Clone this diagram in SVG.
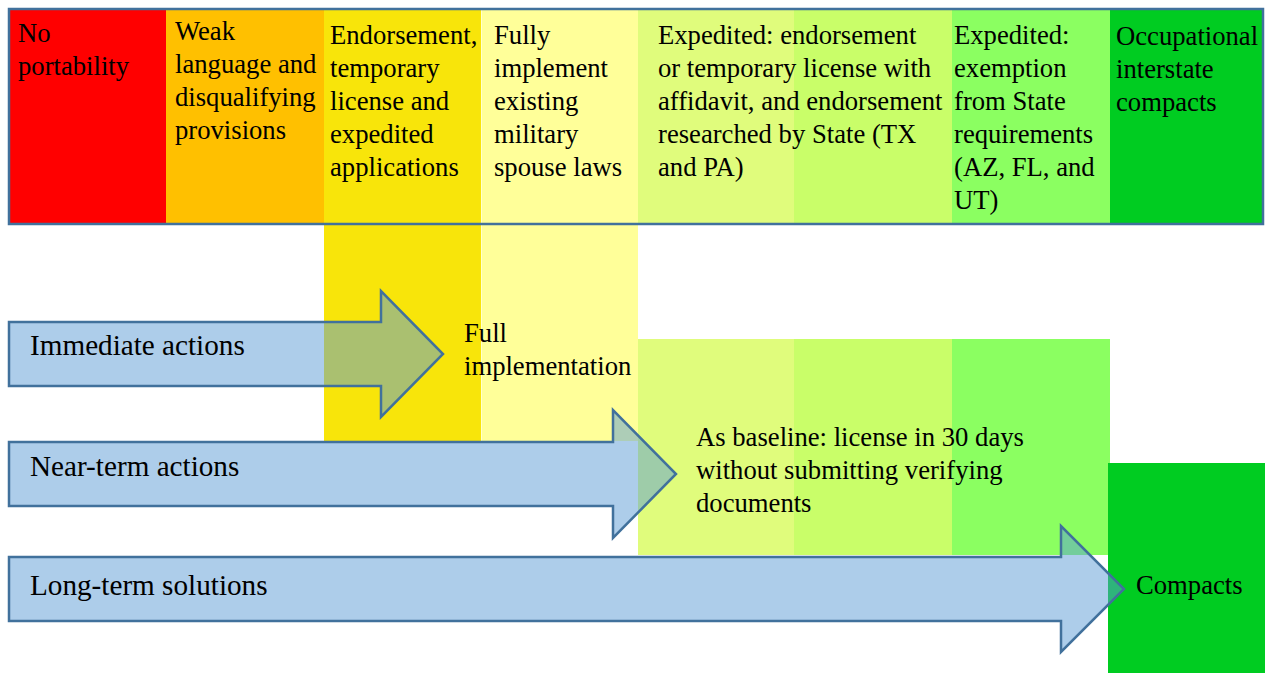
<svg xmlns="http://www.w3.org/2000/svg" width="1265" height="673" viewBox="0 0 1265 673">
<style>
.t{font-family:"Liberation Serif","Times New Roman",serif;font-size:26.67px;fill:#000}
.ta{font-family:"Liberation Serif","Times New Roman",serif;font-size:29.2px;fill:#000}
.arrow{fill:#5B9BD5;fill-opacity:0.5;stroke:#41719C;stroke-width:2.5;stroke-linejoin:miter}
</style>
<rect width="1265" height="673" fill="#ffffff"/>
<g id="col-no-portability">
<rect x="9" y="9" width="157" height="215" fill="#FF0000"/>
<text class="t" x="18" y="42">No</text>
<text class="t" x="18" y="75">portability</text>
</g>
<g id="col-weak-language">
<rect x="166" y="9" width="158" height="215" fill="#FFC000"/>
<text class="t" x="175" y="39.5">Weak</text>
<text class="t" x="175" y="72.5">language and</text>
<text class="t" x="175" y="105.5">disqualifying</text>
<text class="t" x="175" y="138.5">provisions</text>
</g>
<g id="col-endorsement">
<rect x="324" y="9" width="157" height="432" fill="#F8E50A"/>
<text class="t" x="330" y="44">Endorsement,</text>
<text class="t" x="330" y="77">temporary</text>
<text class="t" x="330" y="110">license and</text>
<text class="t" x="330" y="143">expedited</text>
<text class="t" x="330" y="176">applications</text>
</g>
<g id="col-fully-implement">
<rect x="481.5" y="9" width="156.5" height="432" fill="#FFFF99"/>
<text class="t" x="494" y="44">Fully</text>
<text class="t" x="494" y="77">implement</text>
<text class="t" x="494" y="110">existing</text>
<text class="t" x="494" y="143">military</text>
<text class="t" x="494" y="176">spouse laws</text>
</g>
<g id="col-expedited-endorsement">
<rect x="638" y="9" width="156" height="215" fill="#E0FC7C"/>
<rect x="794" y="9" width="158" height="215" fill="#C9FE69"/>
<text class="t" x="658" y="44">Expedited: endorsement</text>
<text class="t" x="658" y="77">or temporary license with</text>
<text class="t" x="658" y="110">affidavit, and endorsement</text>
<text class="t" x="658" y="143">researched by State (TX</text>
<text class="t" x="658" y="176">and PA)</text>
</g>
<g id="col-expedited-exemption">
<rect x="952" y="9" width="158" height="215" fill="#8BFF61"/>
<text class="t" x="954" y="44">Expedited:</text>
<text class="t" x="954" y="77">exemption</text>
<text class="t" x="954" y="110">from State</text>
<text class="t" x="954" y="143">requirements</text>
<text class="t" x="954" y="176">(AZ, FL, and</text>
<text class="t" x="954" y="209">UT)</text>
</g>
<g id="col-compacts">
<rect x="1110" y="9" width="153" height="215" fill="#00CC21"/>
<text class="t" x="1116" y="45">Occupational</text>
<text class="t" x="1116" y="78">interstate</text>
<text class="t" x="1116" y="111">compacts</text>
</g>
<rect id="top-bar-border" x="9" y="9" width="1254" height="215" fill="none" stroke="#41719C" stroke-width="2.5"/>
<g id="full-implementation">
<text class="t" x="464" y="342">Full</text>
<text class="t" x="464" y="375">implementation</text>
</g>
<g id="baseline">
<rect x="638" y="339" width="156" height="216" fill="#E0FC7C"/>
<rect x="794" y="339" width="158" height="216" fill="#C9FE69"/>
<rect x="952" y="339" width="158" height="216" fill="#8BFF61"/>
<text class="t" x="696" y="446">As baseline: license in 30 days</text>
<text class="t" x="696" y="479">without submitting verifying</text>
<text class="t" x="696" y="512">documents</text>
</g>
<g id="compacts">
<rect x="1108" y="463" width="157" height="210" fill="#00CC21"/>
<text class="t" x="1136" y="594">Compacts</text>
</g>
<g id="connectors">
<g id="arrow-immediate">
<path class="arrow" d="M9,322 H381 V291 L443,354 L381,417 V386 H9 Z"/>
<text class="ta" x="30" y="355">Immediate actions</text>
</g>
<g id="arrow-near-term">
<path class="arrow" d="M9,442 H613 V410 L676,474 L613,538 V506 H9 Z"/>
<text class="ta" x="30" y="476">Near-term actions</text>
</g>
<g id="arrow-long-term">
<path class="arrow" d="M9,557 H1061 V526 L1124,589 L1061,652 V621 H9 Z"/>
<text class="ta" x="30" y="595">Long-term solutions</text>
</g>
</g>
</svg>
